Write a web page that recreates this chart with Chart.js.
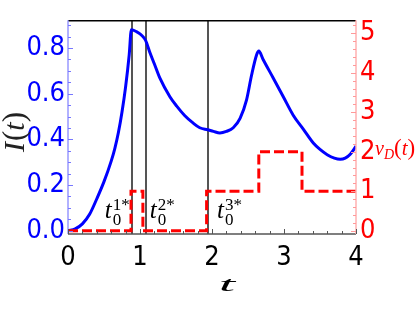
<!DOCTYPE html>
<html><head><meta charset="utf-8">
<script src="https://cdn.jsdelivr.net/npm/chart.js@4.4.0/dist/chart.umd.min.js"></script>
<style>html,body{margin:0;padding:0;background:#fff;}canvas{display:block;}</style>
</head><body>
<canvas id="c" width="415" height="312"></canvas>
<script>
// ---- data ----
const tI = [0, 0.1, 0.2, 0.3, 0.4, 0.5, 0.6, 0.65, 0.7, 0.75, 0.8, 0.85, 0.88, 0.95, 1.0, 1.05, 1.08, 1.14, 1.2, 1.275, 1.415, 1.51, 1.62, 1.74, 1.83, 1.94, 2.02, 2.11, 2.2, 2.295, 2.39, 2.48, 2.55, 2.62, 2.65, 2.71, 2.85, 2.99, 3.13, 3.27, 3.41, 3.5, 3.6, 3.7, 3.78, 3.85, 3.92, 4.0];
const vI = [0, 0.008, 0.03, 0.072, 0.14, 0.215, 0.305, 0.36, 0.43, 0.52, 0.63, 0.77, 0.88, 0.872, 0.862, 0.847, 0.832, 0.778, 0.73, 0.669, 0.587, 0.546, 0.505, 0.471, 0.451, 0.442, 0.435, 0.428, 0.435, 0.451, 0.492, 0.573, 0.682, 0.771, 0.787, 0.75, 0.669, 0.587, 0.505, 0.444, 0.383, 0.356, 0.333, 0.318, 0.313, 0.318, 0.335, 0.37];
const stepTimes = [0, 0.875, 1.04, 1.925, 2.65, 3.25, 4];
const stepLevels = [0, 1, 0, 1, 2, 1, 1];
const markerTimes = [0.89, 1.08, 1.94];
const markerSup = ['1*', '2*', '3*'];
const xTicks = [0, 1, 2, 3, 4];
const leftTicks = [0, 0.2, 0.4, 0.6, 0.8];
const rightTicks = [0, 1, 2, 3, 4, 5];

// label anchors (data units)
const markerLabelX = [0.51, 1.137, 2.07];
const markerLabelY = 0.055;

const TICKFONT = "'DejaVu Sans Condensed', 'DejaVu Sans', sans-serif";
const SERIF = "'Liberation Serif', 'DejaVu Serif', serif";

function drawRich(ctx, parts, x, y, align) {
  let w = 0;
  parts.forEach(p => { ctx.font = p.font; p.w = ctx.measureText(p.text).width; w += p.w + (p.gap || 0); });
  let cx = align === 'center' ? x - w / 2 : x;
  parts.forEach(p => {
    ctx.font = p.font;
    ctx.fillText(p.text, cx + (p.dx || 0), y + (p.dy || 0));
    cx += p.w + (p.gap || 0);
  });
}

const decor = {
  id: 'decor',
  beforeDatasetsDraw(chart) {
    const ctx = chart.ctx, xs = chart.scales.x, a = chart.chartArea;
    ctx.save();
    ctx.strokeStyle = '#555555';
    ctx.lineWidth = 2;
    markerTimes.forEach(t => {
      const px = Math.round(xs.getPixelForValue(t));
      ctx.beginPath(); ctx.moveTo(px, a.top); ctx.lineTo(px, a.bottom); ctx.stroke();
    });
    ctx.restore();
  },
  afterDatasetsDraw(chart) {
    const ctx = chart.ctx, xs = chart.scales.x, ys = chart.scales.y, y1 = chart.scales.y1, a = chart.chartArea;
    ctx.save();
    // frame
    ctx.lineWidth = 1.5;
    ctx.strokeStyle = '#000';
    ctx.beginPath(); ctx.moveTo(a.left, a.top + 0.5); ctx.lineTo(a.right, a.top + 0.5); ctx.stroke();
    ctx.strokeStyle = '#555';
    ctx.beginPath(); ctx.moveTo(a.left, a.bottom); ctx.lineTo(a.right, a.bottom); ctx.stroke();
    ctx.strokeStyle = '#9999ff';
    ctx.beginPath(); ctx.moveTo(a.left, a.top); ctx.lineTo(a.left, a.bottom); ctx.stroke();
    ctx.strokeStyle = '#ffb0b0';
    ctx.beginPath(); ctx.moveTo(a.right, a.top); ctx.lineTo(a.right, a.bottom); ctx.stroke();
    // inner ticks
    ctx.lineWidth = 1;
    ctx.strokeStyle = '#7777ff';
    for (let i = 0; i <= 18; i++) {
      const v = i * 0.05, py = Math.round(ys.getPixelForValue(v)) + 0.5;
      const len = (i % 4 === 0) ? 5 : 3;
      ctx.beginPath(); ctx.moveTo(a.left, py); ctx.lineTo(a.left + len, py); ctx.stroke();
    }
    ctx.strokeStyle = '#ff9999';
    for (let i = 0; i <= 26; i++) {
      const v = i * 0.2, py = Math.round(y1.getPixelForValue(v)) + 0.5;
      const len = (i % 5 === 0) ? 5 : 3;
      ctx.beginPath(); ctx.moveTo(a.right, py); ctx.lineTo(a.right - len, py); ctx.stroke();
    }
    ctx.strokeStyle = '#555';
    for (let i = 0; i <= 20; i++) {
      const v = i * 0.2, px = Math.round(xs.getPixelForValue(v)) + 0.5;
      const len = (i % 5 === 0) ? 5 : 3;
      ctx.beginPath(); ctx.moveTo(px, a.bottom); ctx.lineTo(px, a.bottom - len); ctx.stroke();
    }
    // marker labels t0^{k*}
    ctx.fillStyle = '#000';
    ctx.textBaseline = 'alphabetic';
    ctx.textAlign = 'left';
    markerLabelX.forEach((t, k) => {
      const px = xs.getPixelForValue(t), py = ys.getPixelForValue(markerLabelY);
      ctx.font = 'italic 25px ' + SERIF;
      ctx.fillText('t', px, py);
      const tw = ctx.measureText('t').width;
      ctx.font = '17px ' + SERIF;
      ctx.fillText('0', px + tw + 1, py + 7);
      ctx.fillText(markerSup[k], px + tw + 1, py - 8);
    });
    ctx.restore();
  },
  afterDraw(chart) {
    const ctx = chart.ctx;
    ctx.save();
    // left title I(t)
    ctx.fillStyle = '#222';
    ctx.textBaseline = 'middle';
    ctx.textAlign = 'left';
    ctx.translate(16, 132);
    ctx.rotate(-Math.PI / 2);
    drawRich(ctx, [
      { text: 'I', font: 'italic 30px ' + SERIF, gap: 1 },
      { text: '(', font: '31px ' + SERIF },
      { text: 't', font: 'italic 30px ' + SERIF },
      { text: ')', font: '31px ' + SERIF }
    ], 0, 0, 'center');
    ctx.restore();
    // right title nu_D(t)
    ctx.save();
    ctx.fillStyle = '#ff0000';
    ctx.textBaseline = 'alphabetic';
    ctx.textAlign = 'left';
    drawRich(ctx, [
      { text: '\u03bd', font: 'italic 20px ' + SERIF },
      { text: 'D', font: 'italic 14px ' + SERIF, dy: 4 },
      { text: '(', font: '23px ' + SERIF },
      { text: 't', font: 'italic 21px ' + SERIF },
      { text: ')', font: '23px ' + SERIF }
    ], 375, 155, 'left');
    ctx.restore();
    // x title t
    ctx.save();
    ctx.fillStyle = '#000';
    ctx.textBaseline = 'middle';
    ctx.textAlign = 'center';
    ctx.translate(227, 285);
    ctx.scale(2.1, 0.75);
    ctx.font = 'italic 28px ' + SERIF;
    ctx.fillText('t', 0, 0);
    ctx.restore();
  }
};

const blueData = tI.map((t, i) => ({ x: t, y: vI[i] }));
const redData = stepTimes.map((t, i) => ({ x: t, y: stepLevels[i] }));

new Chart(document.getElementById('c'), {
  type: 'line',
  data: {
    datasets: [
      { data: redData, yAxisID: 'y1', borderColor: '#ff0000', borderWidth: 3, borderDash: [10, 4], stepped: 'before', pointRadius: 0, fill: false },
      { data: blueData, yAxisID: 'y', borderColor: '#0000ff', borderWidth: 3, pointRadius: 0, cubicInterpolationMode: 'monotone', fill: false }
    ]
  },
  options: {
    responsive: false,
    animation: false,
    devicePixelRatio: 1,
    layout: { padding: { top: 4, left: 0, right: 0, bottom: 0 } },
    plugins: { legend: { display: false }, tooltip: { enabled: false } },
    scales: {
      x: {
        type: 'linear', min: 0, max: 4,
        afterBuildTicks: s => { s.ticks = xTicks.map(v => ({ value: v })); },
        afterFit: s => { s.height = 78; },
        grid: { display: true, drawOnChartArea: false, drawTicks: false },
        border: { display: false },
        ticks: { color: '#000', font: { family: TICKFONT, size: 27 }, padding: 8, maxRotation: 0, callback: v => String(v) }
      },
      y: {
        type: 'linear', position: 'left', min: -0.0143, max: 0.922,
        afterBuildTicks: s => { s.ticks = leftTicks.map(v => ({ value: v })); },
        afterFit: s => { s.width = 68; },
        grid: { display: true, drawOnChartArea: false, drawTicks: false },
        border: { display: false },
        ticks: { color: '#0000ff', font: { family: TICKFONT, size: 27 }, padding: 3, callback: v => v.toFixed(1) }
      },
      y1: {
        type: 'linear', position: 'right', min: -0.083, max: 5.33,
        afterBuildTicks: s => { s.ticks = rightTicks.map(v => ({ value: v })); },
        afterFit: s => { s.width = 59; },
        grid: { display: true, drawOnChartArea: false, drawTicks: false },
        border: { display: false },
        ticks: { color: '#ff0000', font: { family: TICKFONT, size: 27 }, padding: 4, callback: v => String(v) }
      }
    }
  },
  plugins: [decor]
});
</script>
</body></html>
